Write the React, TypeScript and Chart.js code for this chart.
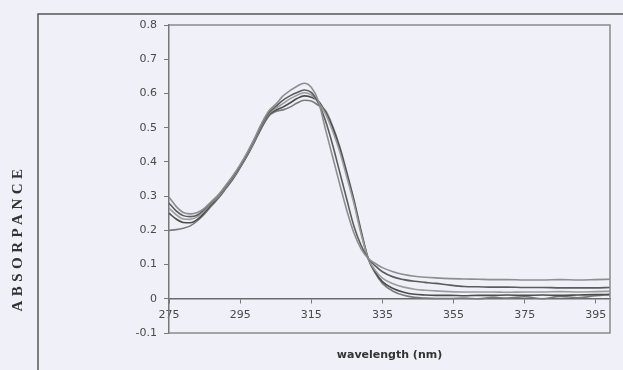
import React, { useEffect, useRef } from "react";
import { Chart, registerables } from "chart.js";

Chart.register(...registerables);

const wavelengths = [275, 277, 279, 281, 283, 285, 287, 289, 291, 293, 295, 297, 299, 301, 303, 305, 307, 309, 311, 313, 315, 317, 319, 321, 323, 325, 327, 329, 331, 333, 335, 338, 341, 344, 347, 350, 354, 358, 362, 366, 370, 375, 380, 385, 390, 395, 399];

const sample1 = [0.297, 0.27, 0.252, 0.248, 0.252, 0.265, 0.285, 0.305, 0.332, 0.36, 0.392, 0.428, 0.468, 0.512, 0.548, 0.568, 0.592, 0.608, 0.621, 0.63, 0.618, 0.578, 0.495, 0.415, 0.335, 0.258, 0.192, 0.146, 0.118, 0.103, 0.091, 0.079, 0.071, 0.066, 0.063, 0.061, 0.059, 0.058, 0.057, 0.056, 0.056, 0.055, 0.055, 0.056, 0.055, 0.056, 0.057];
const sample2 = [0.28, 0.257, 0.243, 0.24, 0.245, 0.262, 0.283, 0.303, 0.33, 0.357, 0.389, 0.425, 0.465, 0.508, 0.543, 0.562, 0.58, 0.593, 0.603, 0.61, 0.603, 0.572, 0.52, 0.45, 0.37, 0.29, 0.212, 0.156, 0.118, 0.096, 0.079, 0.064, 0.056, 0.051, 0.048, 0.045, 0.04, 0.036, 0.035, 0.034, 0.034, 0.033, 0.033, 0.032, 0.032, 0.032, 0.033];
const sample3 = [0.265, 0.246, 0.233, 0.232, 0.24, 0.258, 0.28, 0.3, 0.327, 0.354, 0.387, 0.422, 0.462, 0.505, 0.54, 0.556, 0.57, 0.584, 0.595, 0.602, 0.596, 0.574, 0.54, 0.49, 0.43, 0.355, 0.278, 0.19, 0.118, 0.083, 0.06, 0.044, 0.034, 0.028, 0.025, 0.023, 0.021, 0.02, 0.02, 0.02, 0.019, 0.02, 0.02, 0.021, 0.02, 0.021, 0.022];
const sample4 = [0.25, 0.233, 0.223, 0.222, 0.232, 0.252, 0.276, 0.298, 0.325, 0.352, 0.385, 0.42, 0.46, 0.502, 0.537, 0.551, 0.56, 0.572, 0.585, 0.593, 0.589, 0.578, 0.545, 0.5, 0.44, 0.365, 0.285, 0.195, 0.118, 0.078, 0.05, 0.03, 0.019, 0.013, 0.011, 0.01, 0.01, 0.009, 0.01, 0.01, 0.011, 0.01, 0.011, 0.01, 0.011, 0.012, 0.013];
const sample5 = [0.2, 0.202, 0.206, 0.213, 0.228, 0.248, 0.272, 0.295, 0.322, 0.35, 0.383, 0.418, 0.457, 0.498, 0.533, 0.547, 0.552, 0.56, 0.572, 0.58, 0.578, 0.565, 0.55, 0.505, 0.445, 0.37, 0.29, 0.2, 0.118, 0.075, 0.045, 0.022, 0.01, 0.004, 0.002, 0.001, 0.001, 0.002, 0.0, 0.004, 0.002, 0.006, 0.0, 0.007, 0.003, 0.009, 0.012];

const seriesValues = [sample1, sample2, sample3, sample4, sample5];
const seriesColors = ["#8e8e8e", "#5c5c5c", "#9c9c9c", "#4c4c4c", "#7a7a7a"];

const xTickValues = [275, 295, 315, 335, 355, 375, 395];
const yTickValues = [-0.1, 0, 0.1, 0.2, 0.3, 0.4, 0.5, 0.6, 0.7, 0.8];
const xTitle = "wavelength (nm)";
const yTitle = "ABSORPANCE";

const BG = "#eff0f8";

const decor = {
  id: "decor",
  beforeDraw(chart: any) {
    const { ctx, width, height } = chart;
    ctx.save();
    ctx.fillStyle = BG;
    ctx.fillRect(0, 0, width, height);
    // outer frame
    ctx.strokeStyle = "#555";
    ctx.lineWidth = 1.5;
    ctx.beginPath();
    ctx.moveTo(38, height);
    ctx.lineTo(38, 14);
    ctx.lineTo(width, 14);
    ctx.stroke();
    ctx.restore();
  },
  afterDraw(chart: any) {
    const { ctx, chartArea } = chart;
    const { left, right, top, bottom } = chartArea;
    ctx.save();
    ctx.strokeStyle = "#8a8a8a";
    ctx.lineWidth = 1.5;
    ctx.beginPath();
    ctx.moveTo(left, top);
    ctx.lineTo(right, top);
    ctx.lineTo(right, bottom);
    ctx.lineTo(left, bottom);
    ctx.stroke();

    // x title
    ctx.fillStyle = "#333";
    ctx.font = "bold 11px 'DejaVu Sans'";
    ctx.textAlign = "center";
    ctx.textBaseline = "middle";
    ctx.fillText(xTitle, (left + right) / 2, 355);

    // y title
    ctx.translate(18, 240);
    ctx.rotate(-Math.PI / 2);
    ctx.font = "bold 15px 'Liberation Serif'";
    ctx.fillStyle = "#333";
    (ctx as any).letterSpacing = "4.5px";
    ctx.fillText(yTitle, 2, 0);
    ctx.restore();
  },
};

export default function App() {
  const ref = useRef<HTMLCanvasElement>(null);
  useEffect(() => {
    const canvas = ref.current!;
    const chart = new Chart(canvas, {
      type: "line",
      data: {
        labels: wavelengths,
        datasets: seriesValues.map((vals, i) => ({
          label: "sample " + (i + 1),
          data: vals.map((v, j) => ({ x: wavelengths[j], y: v })),
          borderColor: seriesColors[i],
          borderWidth: 1.6,
          pointRadius: 0,
          fill: false,
          cubicInterpolationMode: "monotone" as const,
        })),
      },
      options: {
        responsive: false,
        animation: false,
        events: [],
        layout: { padding: { left: 0, top: 25, right: 13, bottom: 37 } },
        plugins: { legend: { display: false }, tooltip: { enabled: false } },
        scales: {
          x: {
            type: "linear",
            min: 275,
            max: 399,
            position: { y: 0 } as any,
            afterBuildTicks: (s: any) => {
              s.ticks = xTickValues.map((v) => ({ value: v }));
            },
            ticks: {
              color: "#4a4a4a",
              font: { family: "'DejaVu Sans'", size: 11 },
              padding: 6,
              maxRotation: 0,
              autoSkip: false,
            },
            grid: { display: true, drawOnChartArea: false, drawTicks: true, tickLength: 4, color: "#777" },
            border: { display: true, color: "#6a6a6a", width: 1.5 },
          },
          y: {
            type: "linear",
            position: "left",
            min: -0.1,
            max: 0.8,
            afterBuildTicks: (s: any) => {
              s.ticks = yTickValues.map((v) => ({ value: v }));
            },
            afterFit: (s: any) => {
              s.width = 169;
            },
            ticks: {
              color: "#4a4a4a",
              font: { family: "'DejaVu Sans'", size: 11 },
              padding: 7,
              autoSkip: false,
              callback: (v: any) => (Number(v) === 0 ? "0" : Number(v).toFixed(1)),
            },
            grid: { display: true, drawOnChartArea: false, drawTicks: true, tickLength: 5, color: "#777" },
            border: { display: true, color: "#777", width: 1.5 },
          },
        },
      },
      plugins: [decor],
    });
    return () => chart.destroy();
  }, []);
  return (
    <div style={{ position: "fixed", left: 0, top: 0, width: 623, height: 370, background: BG }}>
      <canvas ref={ref} width={623} height={370} style={{ display: "block" }} />
    </div>
  );
}
